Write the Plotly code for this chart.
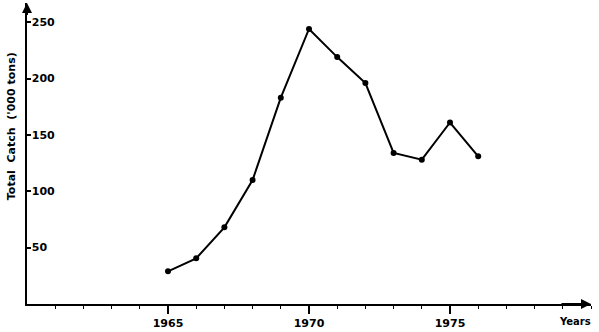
import plotly.graph_objects as go

years = [1965, 1966, 1967, 1968, 1969, 1970, 1971, 1972, 1973, 1974, 1975, 1976]
catch = [29, 40.5, 68, 110, 183, 244, 219, 196, 134, 128, 161, 131]
x_ticks = [1965, 1970, 1975]
y_ticks = [50, 100, 150, 200, 250]

W, H = 599, 332
L, R, T, B = 27, 8, 3, 28
FONT = "DejaVu Sans"

fig = go.Figure()
fig.add_trace(go.Scatter(
    x=years, y=catch, mode="lines+markers",
    line=dict(color="black", width=2),
    marker=dict(color="black", size=6),
    showlegend=False, cliponaxis=False,
))

fig.update_layout(
    width=W, height=H,
    margin=dict(l=L, r=R, t=T, b=B),
    paper_bgcolor="white", plot_bgcolor="white",
    font=dict(family=FONT, size=11, color="black"),
    xaxis=dict(
        range=[1960, 1980], tickvals=x_ticks, ticktext=[str(v) for v in x_ticks],
        showgrid=False, zeroline=False, showline=True, linecolor="black", linewidth=2,
        ticks="outside", ticklen=8, tickwidth=1.5, tickcolor="black",
        minor=dict(dtick=1, tick0=1960, ticks="outside", ticklen=3, tickcolor="black", tickwidth=1),
        tickfont=dict(family=FONT, size=11, color="black", weight="bold"),
    ),
    yaxis=dict(
        range=[0, 267], tickvals=y_ticks, ticktext=[str(v) for v in y_ticks],
        showgrid=False, zeroline=False, showline=True, linecolor="black", linewidth=2,
        ticks="inside", ticklen=4, tickwidth=1.5, tickcolor="black",
        ticklabelposition="inside",
        tickfont=dict(family=FONT, size=11, color="black", weight="bold"),
    ),
    annotations=[
        dict(x=1980, y=0, ax=1978.9, ay=0, xref="x", yref="y", axref="x", ayref="y",
             showarrow=True, arrowhead=2, arrowsize=1, arrowwidth=2, arrowcolor="black", text=""),
        dict(x=1960, y=267, ax=1960, ay=255, xref="x", yref="y", axref="x", ayref="y",
             showarrow=True, arrowhead=2, arrowsize=1, arrowwidth=2, arrowcolor="black", text=""),
        dict(x=0.972, y=-0.058, xref="paper", yref="paper", text="Years", showarrow=False,
             font=dict(family=FONT, size=10, color="black", weight="bold"),
             xanchor="center", yanchor="middle"),
        dict(x=-0.027, y=0.59, xref="paper", yref="paper", text="Total  Catch  ('000 tons)",
             textangle=-90, showarrow=False,
             font=dict(family=FONT, size=11, color="black", weight="bold"),
             xanchor="center", yanchor="middle"),
    ],
)

fig.write_html("out.html")
